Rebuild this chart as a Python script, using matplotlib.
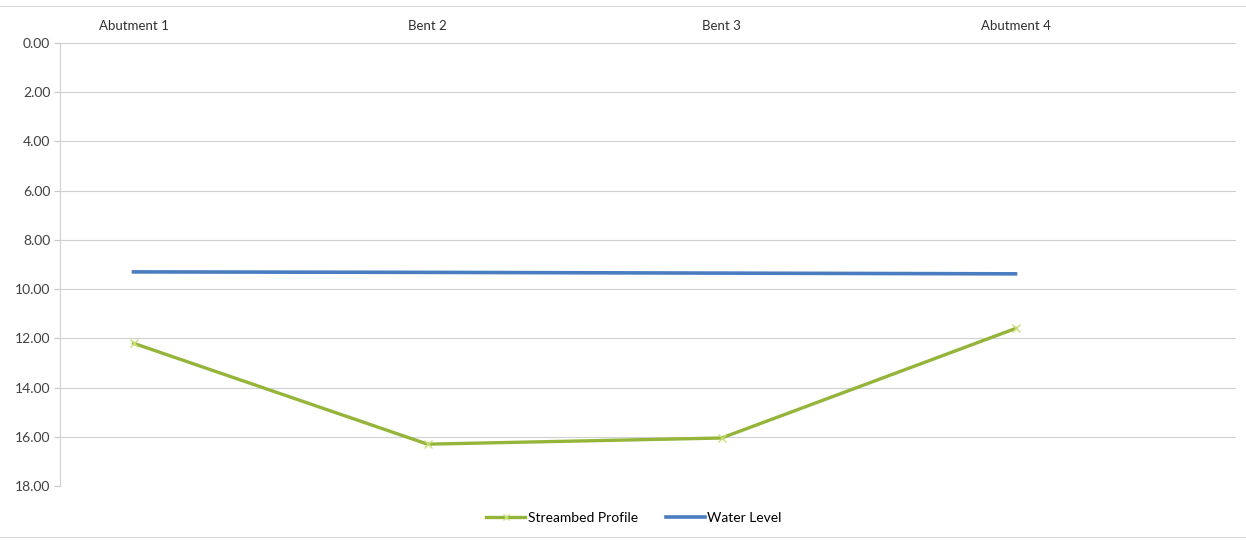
import matplotlib.pyplot as plt
from matplotlib.lines import Line2D

plt.rcParams['font.family'] = ['Lato', 'DejaVu Sans']

locations = ['Abutment 1', 'Bent 2', 'Bent 3', 'Abutment 4']
streambed = [12.20, 16.30, 16.05, 11.60]
water_level = [9.30, 9.32, 9.35, 9.38]
y_ticks = [0, 2, 4, 6, 8, 10, 12, 14, 16, 18]

green = '#94b53a'
blue = '#4a7cc0'

fig = plt.figure(figsize=(12.46, 5.4), dpi=100)
ax = fig.add_axes([60 / 1246, 1 - 486 / 540, 1176 / 1246, 443 / 540])

x = list(range(len(locations)))
ax.plot(x, streambed, color=green, lw=2.4, marker='x', ms=6, mew=1.0,
        mec='#c8dc78', label='Streambed Profile', zorder=3)
ax.plot(x, water_level, color=blue, lw=2.6, label='Water Level', zorder=3)

ax.set_ylim(18, 0)
ax.set_xlim(-0.25, 3.75)
ax.set_yticks(y_ticks)
ax.set_yticklabels(['%.2f' % v for v in y_ticks], fontsize=10, color='#404040')
ax.yaxis.grid(True, color='#d0d0d0', lw=0.8)
ax.set_axisbelow(True)

ax.xaxis.tick_top()
ax.set_xticks(x)
ax.set_xticklabels(locations, fontsize=9.5, color='#303030')
ax.tick_params(axis='x', length=0, pad=8)
ax.tick_params(axis='y', length=4, color='#c8c8c8', pad=3)

for side in ['top', 'right', 'bottom']:
    ax.spines[side].set_visible(False)
ax.spines['left'].set_color('#d0d0d0')

handles = [Line2D([], [], color=green, lw=2.4, marker='x', ms=5, mec='#c8dc78'),
           Line2D([], [], color=blue, lw=2.6)]
fig.legend(handles, ['Streambed Profile', 'Water Level'], loc='center',
           bbox_to_anchor=(634 / 1246, 1 - 518 / 540), ncol=2, frameon=False,
           fontsize=10, handlelength=2.8, columnspacing=2.0, handletextpad=0.2)

# outer chart border lines
fig.add_artist(Line2D([0, 1], [1 - 6 / 540, 1 - 6 / 540], color='#d8d8d8', lw=0.8))
fig.add_artist(Line2D([0, 1], [1 - 537 / 540, 1 - 537 / 540], color='#d8d8d8', lw=0.8))

fig.savefig('out.png', dpi=100)
